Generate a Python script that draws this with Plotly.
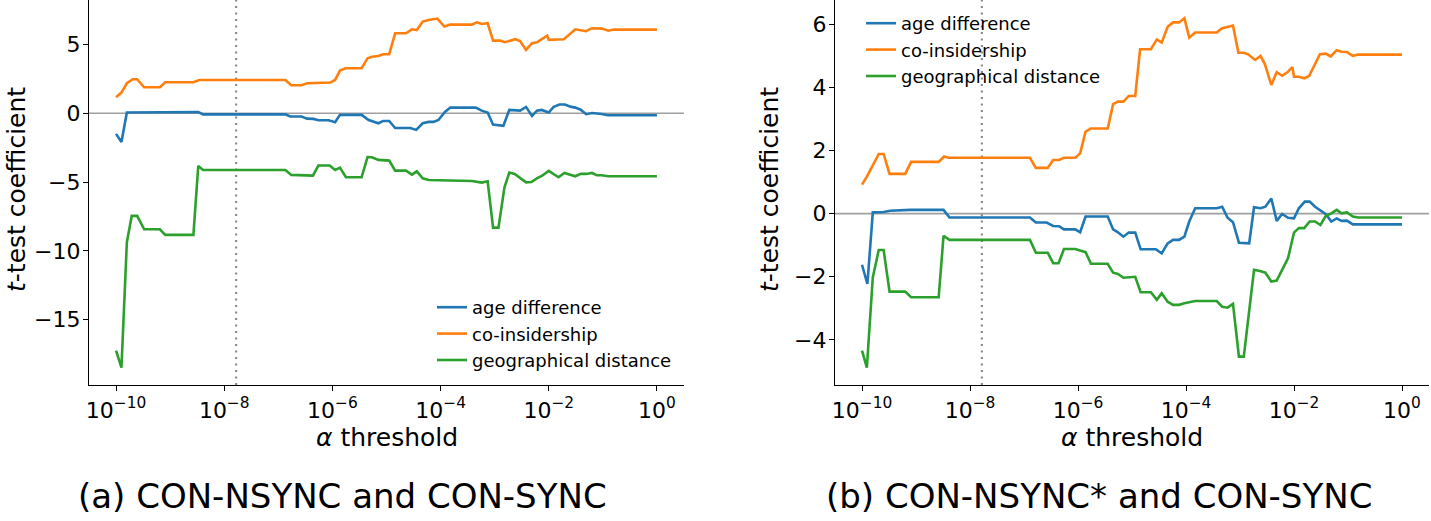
import plotly.graph_objects as go

# ---------------- data (log10 of alpha threshold, t-test coefficient) ----------------
series_names = ["age difference", "co-insidership", "geographical distance"]
colors = ["#1f77b4", "#ff7f0e", "#2ca02c"]

# panel (a): CON-NSYNC and CON-SYNC
age_a_logalpha = [-10.00, -9.90, -9.80, -8.48, -8.39, -6.87, -6.78, -6.57, -6.47, -6.35, -6.26, -6.07, -5.95,
                  -5.86, -5.46, -5.33, -5.15, -5.06, -4.95, -4.84, -4.56, -4.45, -4.33, -4.22, -4.13, -4.04,
                  -3.92, -3.82, -3.35, -3.24, -3.13, -3.03, -2.84, -2.73, -2.53, -2.42, -2.31, -2.22, -2.13,
                  -2.00, -1.91, -1.80, -1.70, -1.60, -1.51, -1.41, -1.31, -1.20, -1.02, -0.91, 0.00]
age_a = [-1.50, -2.09, 0.05, 0.09, -0.08, -0.08, -0.24, -0.24, -0.39, -0.41, -0.51, -0.51, -0.66,
         -0.12, -0.12, -0.49, -0.73, -0.56, -0.56, -1.07, -1.07, -1.21, -0.73, -0.63, -0.63, -0.49,
         0.10, 0.41, 0.41, 0.19, 0.05, -0.83, -0.92, 0.24, 0.19, 0.46, -0.20, 0.19, 0.24,
         0.05, 0.46, 0.63, 0.63, 0.48, 0.41, 0.26, -0.07, 0.02, -0.05, -0.15, -0.15]

coins_a_logalpha = [-10.00, -9.90, -9.80, -9.69, -9.61, -9.48, -9.19, -9.09, -8.57, -8.46, -6.87, -6.76, -6.57,
                    -6.47, -6.04, -5.95, -5.86, -5.76, -5.46, -5.35, -5.27, -5.15, -5.06, -4.95, -4.84, -4.64,
                    -4.53, -4.44, -4.33, -4.22, -4.06, -3.93, -3.82, -3.42, -3.33, -3.24, -3.13, -3.03, -2.90,
                    -2.81, -2.62, -2.53, -2.42, -2.31, -2.22, -2.13, -2.03, -2.00, -1.72, -1.51, -1.42, -1.31,
                    -1.20, -1.02, -0.90, -0.80, 0.00]
coins_a = [1.16, 1.50, 2.18, 2.47, 2.47, 1.89, 1.89, 2.25, 2.25, 2.42, 2.42, 2.03, 2.03,
           2.18, 2.23, 2.42, 3.10, 3.27, 3.27, 4.00, 4.11, 4.16, 4.29, 4.29, 5.81, 5.81,
           6.10, 6.05, 6.66, 6.78, 6.88, 6.30, 6.44, 6.44, 6.61, 6.49, 6.54, 5.28, 5.28,
           5.16, 5.38, 5.25, 4.60, 5.09, 5.16, 5.38, 5.64, 5.33, 5.38, 6.10, 6.05, 5.96,
           6.18, 6.15, 6.00, 6.08, 6.08]

geo_a_logalpha = [-10.00, -9.90, -9.80, -9.71, -9.61, -9.48, -9.19, -9.09, -8.57, -8.48, -8.39, -6.87, -6.76,
                  -6.57, -6.36, -6.26, -6.05, -5.95, -5.86, -5.75, -5.46, -5.35, -5.27, -5.15, -4.95, -4.84,
                  -4.64, -4.53, -4.44, -4.33, -4.22, -3.42, -3.24, -3.13, -3.03, -2.93, -2.82, -2.73, -2.63,
                  -2.42, -2.32, -2.22, -2.13, -2.00, -1.82, -1.71, -1.51, -1.41, -1.31, -1.20, -1.11, -1.02,
                  -0.90, 0.00]
geo_a = [-17.25, -18.49, -9.38, -7.46, -7.46, -8.43, -8.43, -8.84, -8.84, -3.83, -4.12, -4.12, -4.48,
         -4.48, -4.53, -3.80, -3.80, -4.12, -3.95, -4.65, -4.65, -3.18, -3.20, -3.39, -3.44, -4.17,
         -4.17, -4.46, -4.22, -4.73, -4.85, -4.92, -5.04, -4.95, -8.31, -8.31, -5.40, -4.31, -4.41,
         -5.02, -5.00, -4.73, -4.56, -4.19, -4.65, -4.34, -4.58, -4.41, -4.41, -4.34, -4.51, -4.51,
         -4.58, -4.58]

# panel (b): CON-NSYNC* and CON-SYNC
age_b_logalpha = [-10.00, -9.90, -9.80, -9.60, -9.48, -9.11, -8.49, -8.38, -6.89, -6.78, -6.58, -6.46, -6.35,
                  -6.26, -6.05, -5.96, -5.86, -5.45, -5.35, -5.26, -5.16, -5.06, -4.94, -4.84, -4.56, -4.45,
                  -4.34, -4.24, -4.13, -4.03, -3.94, -3.83, -3.43, -3.33, -3.23, -3.13, -3.02, -2.83, -2.74,
                  -2.62, -2.53, -2.42, -2.32, -2.22, -2.11, -2.00, -1.91, -1.80, -1.71, -1.61, -1.41, -1.31,
                  -1.21, -1.12, -1.02, -0.91, 0.00]
age_b = [-1.62, -2.23, 0.04, 0.05, 0.09, 0.12, 0.12, -0.12, -0.12, -0.28, -0.28, -0.39, -0.40,
         -0.50, -0.50, -0.59, -0.09, -0.09, -0.50, -0.59, -0.73, -0.60, -0.60, -1.13, -1.13, -1.26,
         -0.94, -0.83, -0.83, -0.73, -0.25, 0.17, 0.17, 0.22, -0.13, -0.27, -0.92, -0.94, 0.20,
         0.17, 0.22, 0.48, -0.23, -0.01, -0.13, -0.15, 0.17, 0.38, 0.38, 0.22, -0.02, -0.25,
         -0.15, -0.23, -0.22, -0.34, -0.34]

coins_b_logalpha = [-10.00, -9.91, -9.69, -9.60, -9.49, -9.20, -9.09, -8.58, -8.48, -8.40, -6.89, -6.78, -6.56,
                    -6.46, -6.35, -6.26, -6.05, -5.96, -5.86, -5.76, -5.45, -5.35, -5.26, -5.16, -5.06, -4.94,
                    -4.85, -4.65, -4.54, -4.45, -4.34, -4.24, -4.13, -4.03, -3.94, -3.83, -3.43, -3.34, -3.13,
                    -3.03, -2.93, -2.85, -2.72, -2.62, -2.54, -2.42, -2.32, -2.22, -2.12, -2.03, -2.00, -1.91,
                    -1.81, -1.72, -1.52, -1.41, -1.32, -1.21, -1.12, -1.02, -0.91, -0.81, 0.00]
coins_b = [0.92, 1.17, 1.89, 1.89, 1.26, 1.26, 1.64, 1.64, 1.81, 1.77, 1.77, 1.45, 1.45,
           1.70, 1.70, 1.77, 1.77, 1.91, 2.60, 2.70, 2.70, 3.47, 3.55, 3.55, 3.73, 3.73,
           5.21, 5.21, 5.52, 5.42, 5.92, 6.06, 6.06, 6.19, 5.58, 5.74, 5.74, 5.87, 5.96,
           5.10, 5.10, 5.05, 4.87, 5.00, 4.74, 4.08, 4.48, 4.37, 4.48, 4.64, 4.34, 4.34,
           4.29, 4.36, 5.05, 5.07, 4.98, 5.18, 5.13, 5.12, 5.00, 5.04, 5.04]

geo_b_logalpha = [-10.00, -9.91, -9.80, -9.69, -9.60, -9.49, -9.20, -9.09, -8.58, -8.49, -8.38, -6.89, -6.78,
                  -6.56, -6.46, -6.36, -6.26, -6.05, -5.96, -5.86, -5.76, -5.45, -5.35, -5.26, -5.16, -4.94,
                  -4.84, -4.65, -4.54, -4.45, -4.34, -4.24, -4.13, -4.03, -3.83, -3.43, -3.33, -3.23, -3.13,
                  -3.02, -2.93, -2.74, -2.63, -2.53, -2.42, -2.32, -2.22, -2.11, -2.00, -1.91, -1.81, -1.71,
                  -1.61, -1.51, -1.41, -1.31, -1.21, -1.12, -1.02, -0.91, -0.81, 0.00]
geo_b = [-4.34, -4.88, -2.02, -1.15, -1.15, -2.47, -2.47, -2.65, -2.65, -0.70, -0.83, -0.83, -1.24,
         -1.24, -1.57, -1.57, -1.12, -1.12, -1.17, -1.22, -1.59, -1.59, -1.87, -1.91, -2.03, -2.00,
         -2.49, -2.49, -2.73, -2.52, -2.79, -2.89, -2.89, -2.84, -2.77, -2.77, -2.95, -2.98, -2.86,
         -4.53, -4.53, -1.78, -1.82, -1.87, -2.15, -2.12, -1.78, -1.41, -0.60, -0.46, -0.46, -0.25,
         -0.25, -0.36, -0.07, 0.01, 0.12, 0.01, 0.04, -0.09, -0.12, -0.12]

alpha_marker = 10 ** -7.78          # dotted vertical reference line
x_tickvals = [1e-10, 1e-8, 1e-6, 1e-4, 1e-2, 1e0]
x_ticktext = ["10<sup>\u221210</sup>", "10<sup>\u22128</sup>", "10<sup>\u22126</sup>",
              "10<sup>\u22124</sup>", "10<sup>\u22122</sup>", "10<sup>0</sup>"]
y_ticks_a = [-15, -10, -5, 0, 5]
y_ticks_b = [-4, -2, 0, 2, 4, 6]
captions = ["(a) CON-NSYNC and CON-SYNC", "(b) CON-NSYNC* and CON-SYNC"]

# ---------------- layout geometry ----------------
W, H = 1431, 521
FONT = "DejaVu Sans"
yr_a = [-19.75, 8.23]
yr_b = [-5.43, 6.77]
xr = [-10.5, 0.5]
dom_x_a = [89 / W, 684 / W]
dom_x_b = [835 / W, 1429 / W]
dom_y = [(H - 385) / H, 1.0]


def fmt_minus(v):
    return str(v).replace("-", "\u2212")


fig = go.Figure()

panels = [
    ("x", "y", "legend", [(age_a_logalpha, age_a), (coins_a_logalpha, coins_a), (geo_a_logalpha, geo_a)], yr_a),
    ("x2", "y2", "legend2", [(age_b_logalpha, age_b), (coins_b_logalpha, coins_b), (geo_b_logalpha, geo_b)], yr_b),
]

for xa, ya, leg, data, yr in panels:
    # zero line
    fig.add_trace(go.Scatter(x=[10 ** xr[0], 10 ** xr[1]], y=[0, 0], mode="lines",
                             line=dict(color="#a0a0a0", width=1.6), xaxis=xa, yaxis=ya,
                             showlegend=False, hoverinfo="skip"))
    # dotted alpha line
    fig.add_trace(go.Scatter(x=[alpha_marker, alpha_marker], y=yr, mode="lines",
                             line=dict(color="#8c8c8c", width=2.2, dash="2px,4.5px"), xaxis=xa, yaxis=ya,
                             showlegend=False, hoverinfo="skip"))
    for (lx, vals), name, col in zip(data, series_names, colors):
        fig.add_trace(go.Scatter(x=[10 ** v for v in lx], y=vals, mode="lines", name=name,
                                 line=dict(color=col, width=2.6), xaxis=xa, yaxis=ya, legend=leg))

axis_common = dict(showgrid=False, zeroline=False, showline=True, linecolor="#000000", linewidth=1.4,
                   ticks="outside", ticklen=5, tickwidth=1.3, tickcolor="#000000", automargin=False,
                   tickfont=dict(family=FONT, size=22, color="#000000"))

fig.update_layout(
    width=W, height=H, margin=dict(l=0, r=0, t=0, b=0, autoexpand=False),
    paper_bgcolor="white", plot_bgcolor="white",
    font=dict(family=FONT, color="#000000"),
    xaxis=dict(type="log", range=xr, domain=dom_x_a, anchor="y", tickvals=x_tickvals, ticktext=x_ticktext,
               ticklabelstandoff=0, **axis_common),
    yaxis=dict(range=yr_a, domain=dom_y, anchor="x", tickvals=y_ticks_a, ticklabelstandoff=-2,
               ticktext=[fmt_minus(v) for v in y_ticks_a], **axis_common),
    xaxis2=dict(type="log", range=xr, domain=dom_x_b, anchor="y2", tickvals=x_tickvals, ticktext=x_ticktext,
                ticklabelstandoff=0, **axis_common),
    yaxis2=dict(range=yr_b, domain=dom_y, anchor="x2", tickvals=y_ticks_b, ticklabelstandoff=-2,
                ticktext=[fmt_minus(v) for v in y_ticks_b], **axis_common),
    legend=dict(x=432 / W, y=(H - 289) / H, xanchor="left", yanchor="top", bgcolor="rgba(255,255,255,0)",
                font=dict(family=FONT, size=18, color="#000000"), tracegroupgap=0),
    legend2=dict(x=861 / W, y=(H - 5) / H, xanchor="left", yanchor="top", bgcolor="rgba(255,255,255,0)",
                 font=dict(family=FONT, size=18, color="#000000"), tracegroupgap=0),
    showlegend=True,
)

title_font = dict(family=FONT, size=25, color="#000000")
cap_font = dict(family=FONT, size=34, color="#000000")
annotations = [
    dict(text="<i>t</i>-test coefficient", x=16 / W, y=(H - 190) / H, textangle=-90,
         xanchor="center", yanchor="middle", font=title_font),
    dict(text="<i>t</i>-test coefficient", x=769 / W, y=(H - 190) / H, textangle=-90,
         xanchor="center", yanchor="middle", font=title_font),
    dict(text="<i>\u03b1</i> threshold", x=386.5 / W, y=(H - 437) / H,
         xanchor="center", yanchor="middle", font=title_font),
    dict(text="<i>\u03b1</i> threshold", x=1132 / W, y=(H - 437) / H,
         xanchor="center", yanchor="middle", font=title_font),
    dict(text=captions[0], x=342 / W, y=(H - 496) / H,
         xanchor="center", yanchor="middle", font=cap_font),
    dict(text=captions[1], x=1099 / W, y=(H - 496) / H,
         xanchor="center", yanchor="middle", font=cap_font),
]
for a in annotations:
    a.update(xref="paper", yref="paper", showarrow=False)
fig.update_layout(annotations=annotations)

# remove the browser's default 8px page margin so the figure sits at the window origin
fig.write_html("out.html", config={"displayModeBar": False},
               post_script="document.body.style.margin='0px';document.body.style.overflow='hidden';")
